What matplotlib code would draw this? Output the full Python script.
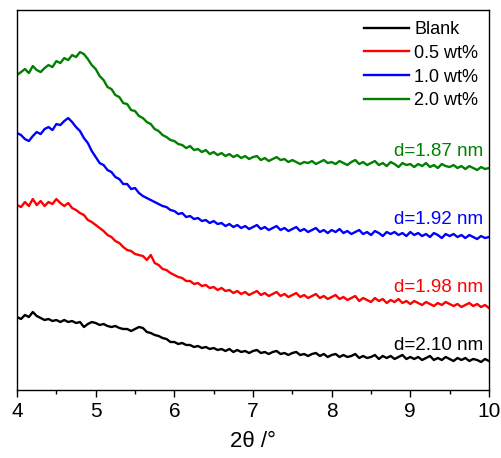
import matplotlib
matplotlib.use('Agg')
import matplotlib.pyplot as plt
import numpy as np

plt.rcParams['font.family'] = ['Liberation Sans', 'DejaVu Sans']

# intensities, 2theta from 4 to 10 in steps of 0.05
blank = [73, 71, 75, 73, 78, 74, 72, 70, 71, 69, 70, 68, 70, 68, 69, 67, 68, 63, 66, 68,
         67, 65, 66, 64, 63, 64, 62, 61, 61, 59, 61, 63, 62, 58, 57, 55, 54, 52, 51, 48,
         48, 46, 47, 45, 45, 43, 44, 42, 43, 41, 42, 40, 41, 39, 41, 38, 40, 38, 39, 37,
         39, 40, 37, 38, 36, 38, 39, 36, 37, 35, 37, 38, 35, 36, 34, 36, 37, 34, 36, 33,
         35, 36, 33, 35, 33, 34, 36, 32, 34, 32, 33, 35, 31, 34, 32, 34, 31, 33, 35, 31,
         33, 31, 33, 30, 32, 34, 30, 32, 30, 33, 31, 29, 32, 30, 32, 29, 31, 30, 28, 31, 29]
wt05 = [185, 183, 188, 184, 191, 185, 189, 184, 188, 186, 191, 187, 184, 187, 182, 180, 177, 175, 170, 168,
        165, 162, 159, 155, 153, 149, 147, 143, 140, 139, 136, 135, 134, 130, 135, 127, 125, 121, 120, 117,
        115, 113, 112, 109, 109, 106, 107, 104, 105, 102, 103, 100, 102, 99, 100, 97, 99, 96, 98, 95,
        97, 99, 95, 97, 94, 96, 98, 94, 96, 93, 95, 97, 93, 95, 92, 94, 96, 92, 94, 91,
        93, 95, 91, 93, 90, 92, 94, 89, 92, 90, 88, 92, 89, 91, 87, 90, 88, 91, 87, 89,
        86, 89, 87, 85, 88, 86, 84, 87, 85, 88, 86, 84, 86, 83, 85, 87, 84, 86, 83, 85, 82]
wt10 = [257, 255, 251, 249, 254, 258, 256, 261, 263, 260, 266, 265, 269, 272, 268, 263, 259, 252, 247, 239,
        233, 227, 225, 220, 218, 213, 211, 206, 206, 201, 202, 197, 194, 192, 190, 188, 186, 184, 183, 180,
        179, 176, 177, 173, 174, 171, 172, 169, 170, 167, 169, 166, 167, 164, 166, 163, 165, 162, 164, 161,
        163, 165, 161, 163, 160, 162, 164, 160, 162, 159, 161, 163, 159, 161, 158, 160, 162, 158, 160, 157,
        160, 158, 161, 157, 159, 156, 158, 160, 156, 158, 155, 159, 157, 154, 158, 156, 158, 155, 157, 154,
        158, 155, 157, 154, 156, 153, 157, 155, 152, 156, 154, 156, 153, 155, 152, 155, 153, 151, 154, 152, 153]
wt20 = [315, 318, 321, 317, 324, 320, 318, 322, 325, 323, 329, 327, 332, 330, 335, 333, 338, 336, 331, 325,
        321, 314, 310, 303, 301, 295, 293, 287, 286, 280, 279, 274, 272, 268, 266, 261, 259, 255, 253, 250,
        249, 246, 245, 242, 244, 240, 241, 238, 240, 236, 238, 235, 237, 234, 236, 233, 235, 232, 234, 231,
        233, 234, 230, 232, 229, 231, 233, 230, 231, 228, 230, 228, 226, 228, 227, 229, 226, 228, 230, 227,
        228, 226, 229, 227, 225, 228, 230, 226, 228, 225, 227, 229, 225, 227, 224, 228, 226, 223, 227, 225,
        226, 223, 226, 224, 227, 223, 225, 222, 226, 224, 223, 225, 222, 224, 221, 224, 222, 220, 223, 221, 222]

labels = ['Blank', '0.5 wt%', '1.0 wt%', '2.0 wt%']
colors = ['black', 'red', 'blue', 'green']
d_texts = ['d=2.10 nm', 'd=1.98 nm', 'd=1.92 nm', 'd=1.87 nm']
d_pos = [44, 103, 171, 239]

fig = plt.figure(figsize=(5.02, 4.58), dpi=100)
ax = fig.add_axes([0.034, 0.1485, 0.94, 0.8295])

for y, lab, c in zip([blank, wt05, wt10, wt20], labels, colors):
    x = np.linspace(4, 10, len(y))
    ax.plot(x, y, color=c, lw=1.7, label=lab)

for t, yy, c in zip(d_texts, d_pos, colors):
    ax.text(9.93, yy, t, color=c, fontsize=13.5, ha='right', va='center')

ax.set_xlim(4, 10)
ax.set_ylim(0, 380)
ax.set_xticks(range(4, 11))
ax.set_xticks(np.arange(4.5, 10, 1), minor=True)
ax.set_yticks([])
ax.tick_params(axis='x', which='major', direction='out', length=5, width=1, labelsize=15, pad=4)
ax.tick_params(axis='x', which='minor', direction='out', length=3, width=1)
ax.set_xlabel('2θ /°', fontsize=16, labelpad=7)
for s in ax.spines.values():
    s.set_linewidth(1)

ax.legend(loc='upper right', frameon=False, fontsize=13, handlelength=2.5,
          handletextpad=0.3, labelspacing=0.38, borderaxespad=0.3, borderpad=0.3)

plt.savefig('out.png', dpi=100)
